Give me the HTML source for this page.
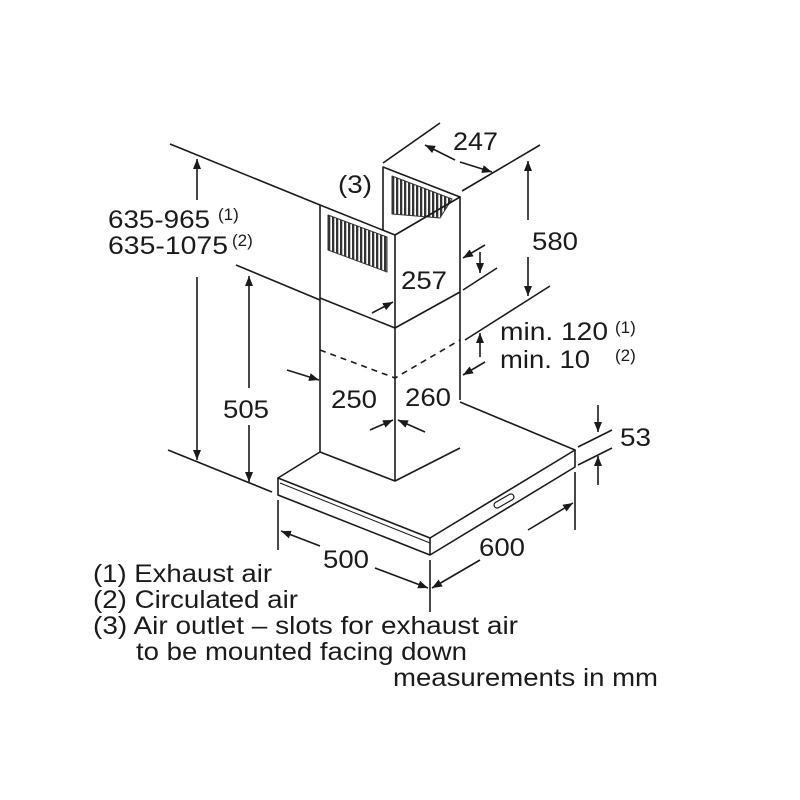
<!DOCTYPE html>
<html><head><meta charset="utf-8"><style>
body{margin:0;background:#fff}
svg{display:block}
text{font-family:"Liberation Sans",Arial,sans-serif;fill:#1a1a1a}
</style></head><body>
<svg width="800" height="800" viewBox="0 0 800 800" xmlns="http://www.w3.org/2000/svg">
<defs>
<marker id="a" markerWidth="10" markerHeight="8" refX="10" refY="4" orient="auto" markerUnits="userSpaceOnUse">
<path d="M0,0 L10,4 L0,8 Z" fill="#1a1a1a"/></marker>
<pattern id="g" width="4" height="10" patternUnits="userSpaceOnUse">
<rect width="4" height="10" fill="#fff"/><rect width="2.3" height="10" fill="#333"/></pattern>
</defs>
<g stroke="#1a1a1a" stroke-width="1.6" fill="none" stroke-linejoin="round">
<!-- grilles -->
<polygon points="328,215 387,237 387,272 328,250" fill="url(#g)" stroke="#333" stroke-width="1"/>
<polygon points="392,176 452,199 440,218 392,214" fill="url(#g)" stroke="#333" stroke-width="1"/>
<!-- upper chimney -->
<polygon points="320,205 395,235 395,300 320,300" fill="#fff" stroke="none"/>
<polygon points="328,215 387,237 387,272 328,250" fill="url(#g)" stroke="#333" stroke-width="1"/>
<polyline points="320,298 320,205 395,235 460,197 460,292"/>
<polyline points="383,230 383,167 460,197"/>
<line x1="395" y1="235" x2="395" y2="481"/>
<polyline points="320,298 395,328 460,292"/>
<!-- lower chimney -->
<line x1="320" y1="298" x2="320" y2="452"/>
<line x1="460" y1="292" x2="460" y2="400"/>
<polyline points="320,452 395,481 460,448"/>
<polyline points="320,350 395,378 460,340" stroke-dasharray="6,5"/>
<!-- hood -->
<polyline points="320,452 278,478 430,538 575,450 460,402"/>
<polyline points="278,478 278,495 430,555 575,467 575,450"/>
<line x1="430" y1="538" x2="430" y2="555"/>
<line x1="280" y1="483" x2="430" y2="543" stroke-width="1"/>
<rect x="493" y="498" width="22" height="6" rx="3" transform="rotate(-30 504 501)" stroke-width="1.2"/>
<!-- extension lines -->
<line x1="170" y1="144" x2="320" y2="205"/>
<line x1="236" y1="265" x2="320" y2="300"/>
<line x1="168" y1="450" x2="272" y2="492"/>
<line x1="383" y1="163" x2="440" y2="123"/>
<line x1="462" y1="191" x2="540" y2="145"/>
<line x1="465" y1="340" x2="550" y2="286"/>
<line x1="463" y1="290" x2="497" y2="268"/>
<line x1="578" y1="447" x2="612" y2="430"/>
<line x1="578" y1="465" x2="612" y2="448"/>
<line x1="278" y1="500" x2="278" y2="550"/>
<line x1="430" y1="560" x2="430" y2="612"/>
<line x1="575" y1="472" x2="575" y2="530"/>
<!-- dimension arrows -->
<line x1="197" y1="200" x2="197" y2="159" marker-end="url(#a)"/>
<line x1="197" y1="277" x2="197" y2="460" marker-end="url(#a)"/>
<line x1="249" y1="388" x2="249" y2="276" marker-end="url(#a)"/>
<line x1="249" y1="425" x2="249" y2="482" marker-end="url(#a)"/>
<line x1="455" y1="160" x2="425" y2="145" marker-end="url(#a)"/>
<line x1="460" y1="162" x2="492" y2="172" marker-end="url(#a)"/>
<line x1="528" y1="220" x2="528" y2="161" marker-end="url(#a)"/>
<line x1="528" y1="257" x2="528" y2="296" marker-end="url(#a)"/>
<line x1="485" y1="245" x2="463" y2="258" marker-end="url(#a)"/>
<line x1="480" y1="252" x2="480" y2="273" marker-end="url(#a)"/>
<line x1="372" y1="313" x2="393" y2="302" marker-end="url(#a)"/>
<line x1="480" y1="357" x2="480" y2="333" marker-end="url(#a)"/>
<line x1="485" y1="362" x2="463" y2="375" marker-end="url(#a)"/>
<line x1="287" y1="370" x2="319" y2="380" marker-end="url(#a)"/>
<line x1="370" y1="430" x2="393" y2="420" marker-end="url(#a)"/>
<line x1="425" y1="432" x2="398" y2="420" marker-end="url(#a)"/>
<line x1="598" y1="405" x2="598" y2="432" marker-end="url(#a)"/>
<line x1="598" y1="485" x2="598" y2="456" marker-end="url(#a)"/>
<line x1="320" y1="546" x2="281" y2="531" marker-end="url(#a)"/>
<line x1="375" y1="568" x2="428" y2="588" marker-end="url(#a)"/>
<line x1="480" y1="560" x2="432" y2="588" marker-end="url(#a)"/>
<line x1="528" y1="530" x2="573" y2="503" marker-end="url(#a)"/>
</g>
<g font-size="25" lengthAdjust="spacingAndGlyphs">
<text x="453" y="150" textLength="45" lengthAdjust="spacingAndGlyphs">247</text>
<text x="338" y="193" textLength="34" lengthAdjust="spacingAndGlyphs">(3)</text>
<text x="108" y="228" textLength="102" lengthAdjust="spacingAndGlyphs">635-965</text><text x="218" y="220" font-size="17">(1)</text>
<text x="108" y="254" textLength="120" lengthAdjust="spacingAndGlyphs">635-1075</text><text x="232" y="246" font-size="17">(2)</text>
<text x="532" y="250" textLength="46" lengthAdjust="spacingAndGlyphs">580</text>
<text x="401" y="289" textLength="46" lengthAdjust="spacingAndGlyphs">257</text>
<text x="500" y="340" textLength="108" lengthAdjust="spacingAndGlyphs">min. 120</text><text x="615" y="333" font-size="17">(1)</text>
<text x="500" y="368" textLength="90" lengthAdjust="spacingAndGlyphs">min. 10</text><text x="615" y="361" font-size="17">(2)</text>
<text x="223" y="418" textLength="46" lengthAdjust="spacingAndGlyphs">505</text>
<text x="331" y="408" textLength="46" lengthAdjust="spacingAndGlyphs">250</text>
<text x="405" y="406" textLength="46" lengthAdjust="spacingAndGlyphs">260</text>
<text x="620" y="446" textLength="31" lengthAdjust="spacingAndGlyphs">53</text>
<text x="323" y="568" textLength="46" lengthAdjust="spacingAndGlyphs">500</text>
<text x="479" y="556" textLength="46" lengthAdjust="spacingAndGlyphs">600</text>
<text x="93" y="582" textLength="179" lengthAdjust="spacingAndGlyphs">(1) Exhaust air</text>
<text x="93" y="608" textLength="205" lengthAdjust="spacingAndGlyphs">(2) Circulated air</text>
<text x="93" y="634" textLength="425" lengthAdjust="spacingAndGlyphs">(3) Air outlet – slots for exhaust air</text>
<text x="136" y="660" textLength="331" lengthAdjust="spacingAndGlyphs">to be mounted facing down</text>
<text x="393" y="686" textLength="265" lengthAdjust="spacingAndGlyphs">measurements in mm</text>
</g>
</svg>
</body></html>
